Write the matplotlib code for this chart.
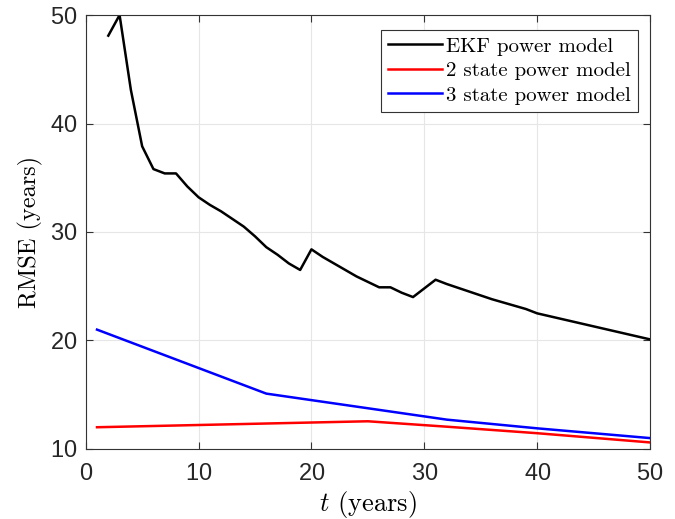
import numpy as np
import matplotlib
matplotlib.use("Agg")
import matplotlib.pyplot as plt

plt.rcParams["font.family"] = "cmr10"
plt.rcParams["mathtext.fontset"] = "cm"
plt.rcParams["axes.formatter.use_mathtext"] = True

# EKF curve, read per year
ekf_t = list(range(2, 51))
ekf_rmse = [48.1, 50.0, 43.1, 37.9, 35.8, 35.4, 35.4, 34.2, 33.2, 32.5,
            31.9, 31.2, 30.5, 29.6, 28.6, 27.9, 27.1, 26.5, 28.4, 27.7,
            27.1, 26.5, 25.9, 25.4, 24.9, 24.9, 24.4, 24.0, 24.8, 25.6,
            25.2, 24.85, 24.5, 24.15, 23.8, 23.5, 23.2, 22.9, 22.5, 22.26,
            22.02, 21.78, 21.54, 21.3, 21.06, 20.82, 20.58, 20.34, 20.1]

# 2 state model (piecewise)
s2_t = [1, 25, 32, 40, 50]
s2_rmse = [12.0, 12.55, 12.05, 11.45, 10.6]

# 3 state model (piecewise)
s3_t = [1, 16, 32, 40, 50]
s3_rmse = [21.0, 15.1, 12.7, 11.9, 11.0]

fig = plt.figure(figsize=(6.75, 5.19), dpi=100)
ax = fig.add_axes([0.127, 0.135, 0.836, 0.836])

ax.plot(ekf_t, ekf_rmse, color="black", lw=1.8, label="EKF power model")
ax.plot(s2_t, s2_rmse, color="red", lw=1.8, label="2 state power model")
ax.plot(s3_t, s3_rmse, color="blue", lw=1.8, label="3 state power model")

ax.set_xlim(0, 50)
ax.set_ylim(10, 50)
ax.set_xticks([0, 10, 20, 30, 40, 50])
ax.set_yticks([10, 20, 30, 40, 50])
ax.grid(True, color="#e6e6e6", lw=0.8)
ax.tick_params(direction="in", top=True, right=True, length=5,
               color="#333333")
ax.tick_params(axis="x", pad=10)
ax.tick_params(axis="y", pad=6)
for lab in ax.get_xticklabels() + ax.get_yticklabels():
    lab.set_family("Liberation Sans")
    lab.set_fontsize(17)
    lab.set_color("#262626")
for s in ax.spines.values():
    s.set_color("#333333")
    s.set_linewidth(0.8)

ax.set_xlabel("$t$ (years)", fontsize=19, labelpad=3)
ax.set_ylabel("RMSE (years)", fontsize=17.5, labelpad=5)

leg = ax.legend(loc="upper right", fontsize=15, fancybox=False,
                edgecolor="#333333", framealpha=1, borderpad=0.35,
                labelspacing=0.28, handlelength=2.6, handletextpad=0.2,
                borderaxespad=0, bbox_to_anchor=(0.979, 0.966))
leg.get_frame().set_linewidth(0.8)

fig.savefig("out.png", dpi=100)
